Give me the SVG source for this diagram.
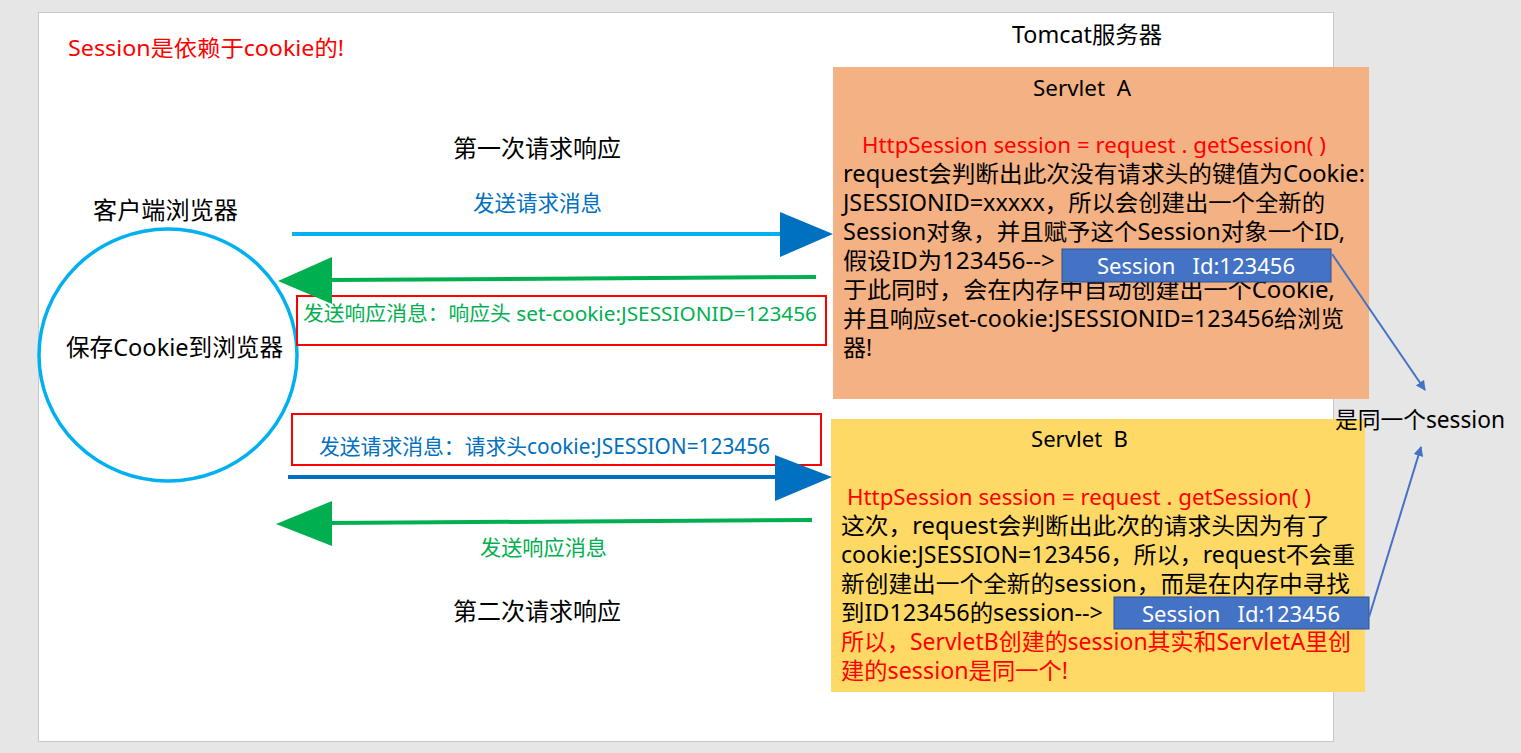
<svg xmlns="http://www.w3.org/2000/svg" width="1521" height="753" viewBox="0 0 1521 753">
<defs>
<style>
text{font-family:"Noto Sans","Noto Sans CJK SC",sans-serif;font-size:23px;fill:#000;white-space:pre}
.red{fill:#ff0000}
.grn{fill:#00b050}
.blu{fill:#0070c0}
.wht{fill:#ffffff}
.mid{text-anchor:middle}
.big{font-size:24px}
.sbox{fill:#4472c4;stroke:#2f528f;stroke-width:1}
.redbox{fill:none;stroke:#ff0000;stroke-width:2}
</style>
<marker id="ah" viewBox="0 0 10 10" refX="9" refY="5" markerWidth="5" markerHeight="5" orient="auto" markerUnits="strokeWidth">
<path d="M0,0 L10,5 L0,10 z" fill="#4472c4"/>
</marker>
</defs>
<rect x="0" y="0" width="1521" height="753" fill="#e6e6e6"/>
<rect x="38.5" y="12.5" width="1295" height="729" fill="#ffffff" stroke="#c8c8c8" stroke-width="1"/>

<g id="title">
<text x="68" y="56" class="red" style="font-size:22px" textLength="276" lengthAdjust="spacingAndGlyphs">Session是依赖于cookie的!</text>
</g>
<g id="tomcat-label">
<text x="1012" y="43" style="font-size:23px" textLength="150" lengthAdjust="spacingAndGlyphs">Tomcat服务器</text>
</g>

<g id="browser">
<text x="93" y="219" class="big" textLength="145" lengthAdjust="spacingAndGlyphs">客户端浏览器</text>
<ellipse cx="168" cy="355" rx="129" ry="126" fill="none" stroke="#00b0f0" stroke-width="3.5"/>
<text x="66" y="356" class="big" textLength="217" lengthAdjust="spacingAndGlyphs">保存Cookie到浏览器</text>
</g>

<g id="servlet-a">
<rect x="833" y="67" width="536" height="332" fill="#f4b183"/>
<text x="1033" y="96" xml:space="preserve" style="font-size:21px" textLength="98" lengthAdjust="spacingAndGlyphs">Servlet  A</text>
<text x="862" y="153" class="red" style="font-size:22px" textLength="464" lengthAdjust="spacingAndGlyphs">HttpSession session = request . getSession( )</text>
<text x="843" y="182" textLength="522" lengthAdjust="spacingAndGlyphs">request会判断出此次没有请求头的键值为Cookie:</text>
<text x="843" y="211" textLength="482" lengthAdjust="spacingAndGlyphs">JSESSIONID=xxxxx，所以会创建出一个全新的</text>
<text x="843" y="240" textLength="502" lengthAdjust="spacingAndGlyphs">Session对象，并且赋予这个Session对象一个ID,</text>
<text x="843" y="269" textLength="212" lengthAdjust="spacingAndGlyphs">假设ID为123456--&gt;</text>
<text x="843" y="298" textLength="492" lengthAdjust="spacingAndGlyphs">于此同时，会在内存中自动创建出一个Cookie,</text>
<text x="843" y="327" textLength="501" lengthAdjust="spacingAndGlyphs">并且响应set-cookie:JSESSIONID=123456给浏览</text>
<text x="843" y="356">器!</text>
</g>
<g id="session-a">
<rect x="1062" y="249" width="269" height="33" class="sbox"/>
<text x="1097" y="274" xml:space="preserve" class="wht" style="font-size:21px" textLength="198" lengthAdjust="spacingAndGlyphs">Session   Id:123456</text>
</g>

<g id="servlet-b">
<rect x="831" y="419" width="534" height="273" fill="#ffd966"/>
<text x="1031" y="447" xml:space="preserve" style="font-size:21px" textLength="97" lengthAdjust="spacingAndGlyphs">Servlet  B</text>
<text x="847" y="505" class="red" style="font-size:22px" textLength="464" lengthAdjust="spacingAndGlyphs">HttpSession session = request . getSession( )</text>
<text x="841" y="534" textLength="489" lengthAdjust="spacingAndGlyphs">这次，request会判断出此次的请求头因为有了</text>
<text x="841" y="563" textLength="514" lengthAdjust="spacingAndGlyphs">cookie:JSESSION=123456，所以，request不会重</text>
<text x="841" y="592" textLength="509" lengthAdjust="spacingAndGlyphs">新创建出一个全新的session，而是在内存中寻找</text>
<text x="841" y="621" textLength="262" lengthAdjust="spacingAndGlyphs">到ID123456的session--&gt;</text>
<text x="841" y="650" class="red" textLength="510" lengthAdjust="spacingAndGlyphs">所以，ServletB创建的session其实和ServletA里创</text>
<text x="841" y="679" class="red" textLength="227" lengthAdjust="spacingAndGlyphs">建的session是同一个!</text>
</g>
<g id="session-b">
<rect x="1114" y="597" width="255" height="32" class="sbox"/>
<text x="1142" y="622" xml:space="preserve" class="wht" style="font-size:21px" textLength="198" lengthAdjust="spacingAndGlyphs">Session   Id:123456</text>
</g>

<g id="same-session">
<text x="1335" y="428" textLength="170" lengthAdjust="spacingAndGlyphs">是同一个session</text>
</g>

<g id="labels">
<text x="453" y="157" class="big" textLength="168" lengthAdjust="spacingAndGlyphs">第一次请求响应</text>
<text x="473" y="211" class="blu" style="font-size:21.5px" textLength="129" lengthAdjust="spacingAndGlyphs">发送请求消息</text>
<rect x="297" y="296" width="529" height="49" class="redbox"/>
<text x="303" y="321" class="grn" style="font-size:20px" textLength="514" lengthAdjust="spacingAndGlyphs">发送响应消息：响应头 set-cookie:JSESSIONID=123456</text>
<rect x="292" y="414" width="529" height="51" class="redbox"/>
<text x="319" y="454" class="blu" style="font-size:21px" textLength="451" lengthAdjust="spacingAndGlyphs">发送请求消息：请求头cookie:JSESSION=123456</text>
<text x="480" y="555" class="grn" style="font-size:21px" textLength="127" lengthAdjust="spacingAndGlyphs">发送响应消息</text>
<text x="453" y="620" class="big" textLength="168" lengthAdjust="spacingAndGlyphs">第二次请求响应</text>
</g>

<g id="connectors">
<line x1="292" y1="234" x2="782" y2="234" stroke="#00b0f0" stroke-width="4"/>
<polygon points="780,212 833,234 780,257" fill="#0070c0"/>
<line x1="816" y1="277" x2="328" y2="280" stroke="#00b050" stroke-width="4"/>
<polygon points="332,257 278,281 332,304" fill="#00b050"/>
<line x1="288" y1="477" x2="777" y2="477" stroke="#0070c0" stroke-width="4"/>
<polygon points="775,455 832,477 775,501" fill="#0070c0"/>
<line x1="812" y1="520" x2="328" y2="523" stroke="#00b050" stroke-width="4"/>
<polygon points="332,501 276,524 332,546" fill="#00b050"/>
<line x1="1332" y1="254" x2="1425" y2="390" stroke="#4472c4" stroke-width="2" marker-end="url(#ah)"/>
<line x1="1369" y1="617" x2="1421" y2="447" stroke="#4472c4" stroke-width="2" marker-end="url(#ah)"/>
</g>
</svg>
